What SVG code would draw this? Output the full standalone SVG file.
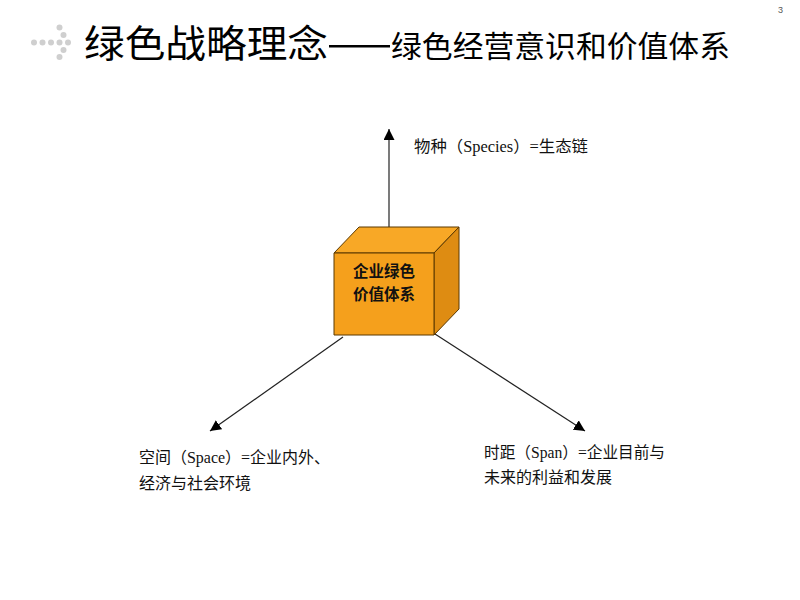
<svg xmlns="http://www.w3.org/2000/svg" width="800" height="600" viewBox="0 0 800 600">
<style>
.t{font-family:"Noto Sans CJK SC","Liberation Sans",sans-serif;fill:#000}
.lbl{font-family:"Liberation Serif","Noto Sans CJK SC",serif;font-size:16px;fill:#111}
.dot{fill:#cfcfcf}
.conn{stroke:#222;stroke-width:1.2;fill:none}
</style>
<defs>
<marker id="ah" viewBox="0 0 10 10" refX="10" refY="5" markerWidth="11" markerHeight="11" markerUnits="userSpaceOnUse" orient="auto">
<path d="M0,0 L10,5 L0,10 z" fill="#000"/>
</marker>
</defs>
<rect width="800" height="600" fill="#fff"/>
<g id="deco">
<circle class="dot" cx="34" cy="42.5" r="3"/>
<circle class="dot" cx="42.5" cy="42.5" r="3"/>
<circle class="dot" cx="51" cy="42.5" r="3"/>
<circle class="dot" cx="59.5" cy="42.5" r="3"/>
<circle class="dot" cx="68" cy="42.5" r="3"/>
<circle class="dot" cx="59.5" cy="27.5" r="3"/>
<circle class="dot" cx="63.5" cy="35" r="3"/>
<circle class="dot" cx="63.5" cy="50" r="3"/>
<circle class="dot" cx="59.5" cy="57" r="3"/>
</g>
<text x="778" y="13" font-family="Liberation Sans,sans-serif" font-size="9" fill="#555">3</text>
<g id="title">
<text class="t" x="84" y="57" font-size="38" textLength="244" lengthAdjust="spacingAndGlyphs">绿色战略理念</text>
<rect x="329" y="45" width="61" height="2.5" fill="#000"/>
<text class="t" x="391" y="57" font-size="30" textLength="339" lengthAdjust="spacingAndGlyphs">绿色经营意识和价值体系</text>
</g>
<g id="connectors">
<line class="conn" x1="389" y1="227" x2="389" y2="129" marker-end="url(#ah)"/>
<line class="conn" x1="343" y1="337" x2="210" y2="431" marker-end="url(#ah)"/>
<line class="conn" x1="435" y1="334" x2="585" y2="431" marker-end="url(#ah)"/>
</g>
<g id="cube" stroke="#5a3800" stroke-width="1" stroke-linejoin="round">
<polygon points="334,253 359,227 459,227 434,253" fill="#f8a826"/>
<polygon points="434,253 459,227 459,309 434,335" fill="#de8c12"/>
<rect x="334" y="253" width="100" height="82" fill="#f5a01c"/>
<text x="384" y="277" text-anchor="middle" font-family="Noto Sans CJK SC,sans-serif" font-weight="bold" font-size="15.5" fill="#111" stroke="none">企业绿色</text>
<text x="384" y="300" text-anchor="middle" font-family="Noto Sans CJK SC,sans-serif" font-weight="bold" font-size="15.5" fill="#111" stroke="none">价值体系</text>
</g>
<g id="species">
<text class="lbl" x="414" y="152" textLength="174" lengthAdjust="spacingAndGlyphs">物种（Species）=生态链</text>
</g>
<g id="space">
<text class="lbl" x="139" y="463" textLength="191" lengthAdjust="spacingAndGlyphs">空间（Space）=企业内外、</text>
<text class="lbl" x="139" y="489">经济与社会环境</text>
</g>
<g id="span">
<text class="lbl" x="484" y="458" textLength="181" lengthAdjust="spacingAndGlyphs">时距（Span）=企业目前与</text>
<text class="lbl" x="484" y="483">未来的利益和发展</text>
</g>
</svg>
